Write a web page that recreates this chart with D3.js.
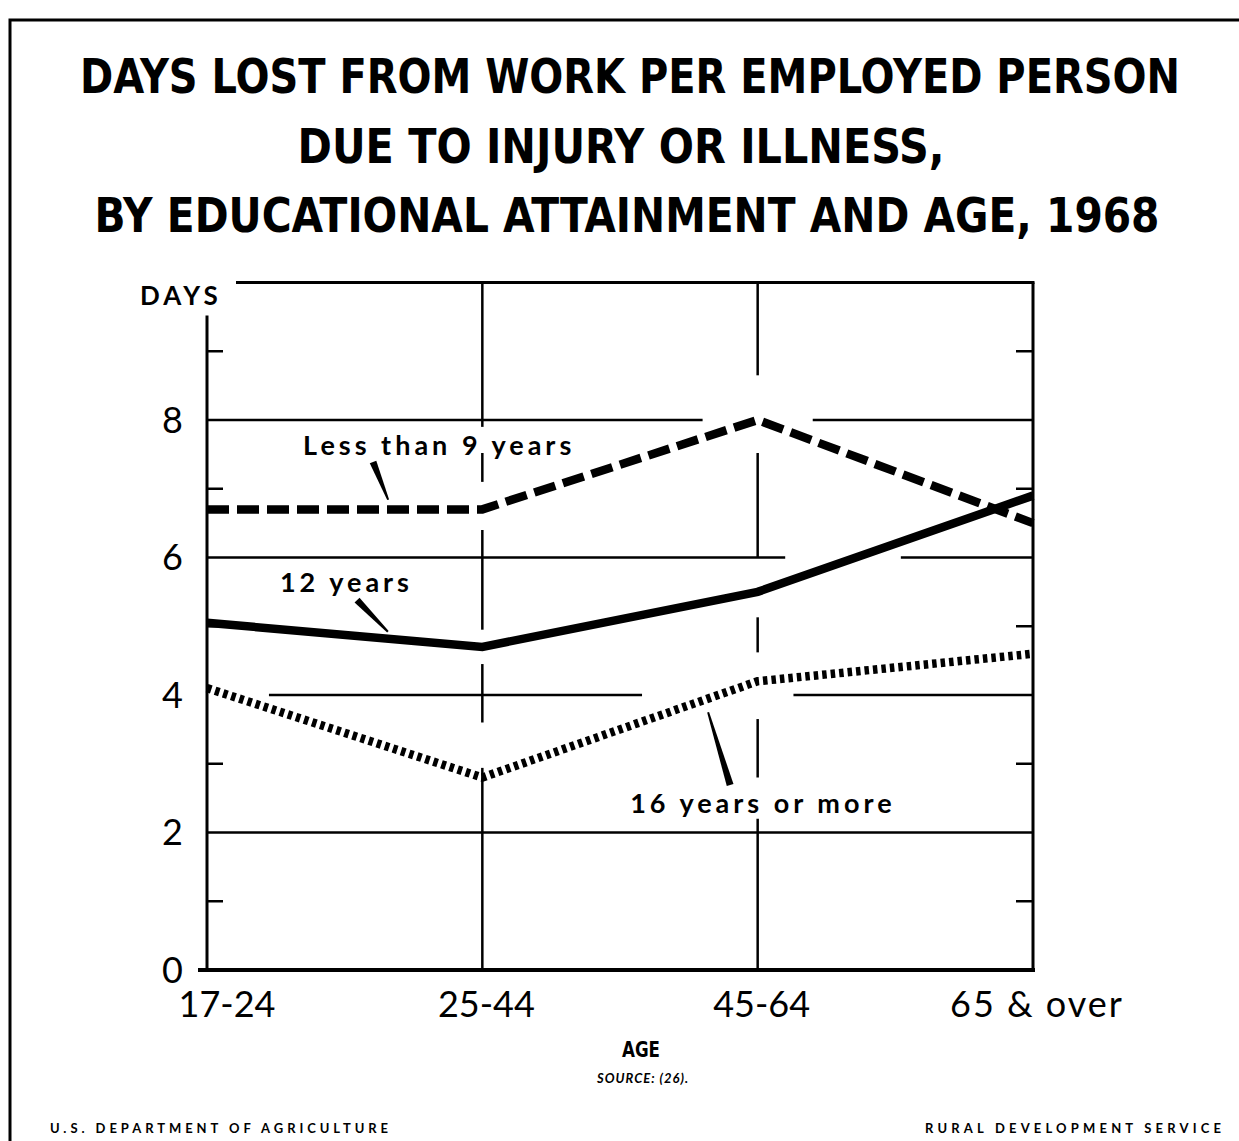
<!DOCTYPE html>
<html>
  <head>
    <meta charset="utf-8">
    <title>Days lost from work per employed person, 1968</title>
    <script src="https://d3js.org/d3.v7.min.js"></script>
    <style>
      body { margin: 0; background: #fff; }
      svg { display: block; }
      .title { font-family: "DejaVu Sans Condensed", "DejaVu Sans", sans-serif; font-stretch: condensed; font-weight: bold; font-size: 42px; text-anchor: middle; }
      .tick { font-family: Lato, "Open Sans", sans-serif; font-size: 36px; }
      .ageTick { font-family: Lato, "Open Sans", sans-serif; font-size: 36px; text-anchor: middle; }
      .lineLabel { font-family: Lato, "Open Sans", sans-serif; font-weight: bold; font-size: 27px; letter-spacing: 4px; }
      .small { font-family: Lato, "Open Sans", sans-serif; font-weight: bold; font-size: 13px; }
      .grid { stroke: #000; stroke-width: 2.5; fill: none; }
      .frame { stroke: #000; stroke-width: 3; fill: none; }
      .series { fill: none; stroke: #000; stroke-width: 8.5; stroke-linejoin: miter; stroke-linecap: butt; }
    </style>
  </head>
  <body>
    <svg id="chart" width="1239" height="1141"></svg>
    <script>
      // chart values
      ages = ["17-24", "25-44", "45-64", "65 & over"];
      lessThan9 = [6.7, 6.7, 8.0, 6.5];
      twelveYears = [5.05, 4.7, 5.5, 6.9];
      sixteenPlus = [4.1, 2.8, 4.2, 4.6];
      dayLabels = [0, 2, 4, 6, 8];
      oddTicks = [1, 3, 5, 7, 9];
      titleLines = [
        "DAYS LOST FROM WORK PER EMPLOYED PERSON",
        "DUE TO INJURY OR ILLNESS,",
        "BY EDUCATIONAL ATTAINMENT AND AGE, 1968"
      ];
      // grid lines are broken where lines and labels cross them (x as age index, y as days)
      hGrid = [
        { days: 2, spans: [[0, 3]] },
        { days: 4, spans: [[0.225, 1.58], [2.13, 3]] },
        { days: 6, spans: [[0, 2.1], [2.52, 3]] },
        { days: 8, spans: [[0, 1.8], [2.2, 3]] }
      ];
      vGrid = [
        { age: 1, spans: [[7.9, 10], [7.1, 7.52], [4.95, 6.4], [3.6, 4.45], [0, 2.94]] },
        { age: 2, spans: [[8.65, 10], [6.0, 7.52], [4.62, 5.13], [2.8, 3.65], [0, 2.2]] }
      ];
      series = [
        { name: "Less than 9 years", values: lessThan9, dash: "22,8",
          label: [0.349, 7.49], pointer: [[0.603, 7.39], [0.658, 6.84]] },
        { name: "12 years", values: twelveYears, dash: null,
          label: [0.265, 5.5], pointer: [[0.545, 5.38], [0.657, 4.92]] },
        { name: "16 years or more", values: sixteenPlus, dash: "4.5,4",
          label: [1.537, 2.28], pointer: [[1.90, 2.69], [1.82, 3.75]] }
      ];

      svg = d3.select("#chart");

      // scales
      x = d3.scalePoint().domain(ages).range([207, 1033]);
      xi = d3.scaleLinear().domain([0, ages.length - 1]).range(x.range());
      y = d3.scaleLinear().domain([0, 10]).range([970, 282.5]);

      // outer border
      svg.append("path")
        .attr("class", "frame")
        .attr("d", "M10,1141V20H1239");

      // title (stretched a little taller, like the condensed poster type)
      titleSpec = [
        { x: 630, y: 93, w: 1100 },
        { x: 621, y: 163, w: 647 },
        { x: 627, y: 232, w: 1065 }
      ];
      svg.selectAll(".titleLine")
        .data(titleLines)
        .join("g")
          .attr("class", "titleLine")
          .attr("transform", (d, i) => "translate(" + titleSpec[i].x + "," + titleSpec[i].y + ") scale(1,1.15)")
        .append("text")
          .attr("class", "title")
          .attr("textLength", (d, i) => titleSpec[i].w)
          .attr("lengthAdjust", "spacingAndGlyphs")
          .text(d => d);

      // grid
      gridGroup = svg.append("g");
      hGrid.forEach(function(g) {
        g.spans.forEach(function(s) {
          gridGroup.append("line")
            .attr("class", "grid")
            .attr("x1", xi(s[0])).attr("x2", xi(s[1]))
            .attr("y1", y(g.days)).attr("y2", y(g.days));
        });
      });
      vGrid.forEach(function(g) {
        g.spans.forEach(function(s) {
          gridGroup.append("line")
            .attr("class", "grid")
            .attr("x1", xi(g.age)).attr("x2", xi(g.age))
            .attr("y1", y(s[0])).attr("y2", y(s[1]));
        });
      });

      // odd-day ticks on both sides
      gridGroup.selectAll(".leftTick")
        .data(oddTicks)
        .join("line")
          .attr("class", "grid leftTick")
          .attr("x1", x.range()[0]).attr("x2", x.range()[0] + 16)
          .attr("y1", d => y(d)).attr("y2", d => y(d));
      gridGroup.selectAll(".rightTick")
        .data(oddTicks)
        .join("line")
          .attr("class", "grid rightTick")
          .attr("x1", x.range()[1] - 17).attr("x2", x.range()[1])
          .attr("y1", d => y(d)).attr("y2", d => y(d));

      // plot frame
      svg.append("line").attr("class", "frame")
        .attr("x1", x.range()[0] + 29).attr("x2", x.range()[1] + 1.5)
        .attr("y1", y(10)).attr("y2", y(10));
      svg.append("line").attr("class", "frame")
        .attr("x1", x.range()[0]).attr("x2", x.range()[0])
        .attr("y1", y(10) + 33).attr("y2", y(0));
      svg.append("line").attr("class", "frame")
        .attr("x1", x.range()[1]).attr("x2", x.range()[1])
        .attr("y1", y(10)).attr("y2", y(0) + 2);
      svg.append("line").attr("class", "frame")
        .style("stroke-width", 4)
        .attr("x1", x.range()[0] - 9).attr("x2", x.range()[1] + 2)
        .attr("y1", y(0)).attr("y2", y(0));

      // axis labels
      svg.selectAll(".dayLabel")
        .data(dayLabels)
        .join("text")
          .attr("class", "tick dayLabel")
          .attr("text-anchor", "end")
          .attr("x", 183)
          .attr("y", d => y(d))
          .attr("dy", "0.36em")
          .text(d => d);
      svg.append("text")
        .attr("class", "lineLabel")
        .style("letter-spacing", "4px")
        .style("font-size", "26px")
        .attr("x", 140)
        .attr("y", 305)
        .text("DAYS");
      svg.selectAll(".ageTick")
        .data(ages)
        .join("text")
          .attr("class", "ageTick")
          .attr("x", (d, i) => x(d) + (i === 0 ? 20 : 4))
          .attr("y", 1017)
          .style("letter-spacing", (d, i) => i === ages.length - 1 ? "2px" : "0px")
          .text(d => d);

      // series lines
      line = d3.line()
        .x((d, i) => x(ages[i]))
        .y(d => y(d));
      svg.selectAll(".series")
        .data(series)
        .join("path")
          .attr("class", "series")
          .attr("d", d => line(d.values))
          .style("stroke-dasharray", d => d.dash);

      // series labels with tapered pointers
      function wedge(p) {
        a = [xi(p[0][0]), y(p[0][1])];
        b = [xi(p[1][0]), y(p[1][1])];
        len = Math.hypot(b[0] - a[0], b[1] - a[1]);
        nx = -(b[1] - a[1]) / len;
        ny = (b[0] - a[0]) / len;
        w0 = 3.5, w1 = 1;
        return "M" + (a[0] + nx * w0) + "," + (a[1] + ny * w0) +
          "L" + (b[0] + nx * w1) + "," + (b[1] + ny * w1) +
          "L" + (b[0] - nx * w1) + "," + (b[1] - ny * w1) +
          "L" + (a[0] - nx * w0) + "," + (a[1] - ny * w0) + "Z";
      }
      svg.selectAll(".pointer")
        .data(series)
        .join("path")
          .attr("class", "pointer")
          .attr("d", d => wedge(d.pointer))
          .style("fill", "#000");
      svg.selectAll(".lineLabel.series-name")
        .data(series)
        .join("text")
          .attr("class", "lineLabel series-name")
          .attr("x", d => xi(d.label[0]))
          .attr("y", d => y(d.label[1]))
          .text(d => d.name);

      // footer
      svg.append("text")
        .attr("class", "title")
        .style("font-size", "22px")
        .attr("x", 641).attr("y", 1057)
        .attr("textLength", 38)
        .attr("lengthAdjust", "spacingAndGlyphs")
        .text("AGE");
      svg.append("text")
        .attr("class", "small")
        .style("font-style", "italic")
        .attr("x", 597).attr("y", 1083)
        .attr("textLength", 91)
        .attr("lengthAdjust", "spacing")
        .text("SOURCE: (26).");
      svg.append("text")
        .attr("class", "small")
        .attr("x", 50).attr("y", 1133)
        .attr("textLength", 338)
        .attr("lengthAdjust", "spacing")
        .text("U.S. DEPARTMENT OF AGRICULTURE");
      svg.append("text")
        .attr("class", "small")
        .attr("x", 925).attr("y", 1133)
        .attr("textLength", 296)
        .attr("lengthAdjust", "spacing")
        .text("RURAL DEVELOPMENT SERVICE");
    </script>
  </body>
</html>
